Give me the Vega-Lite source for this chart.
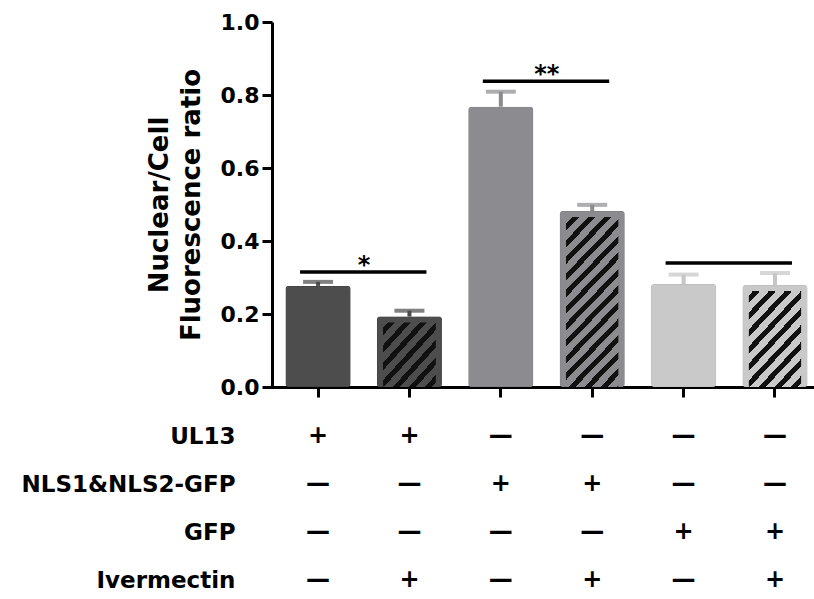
{
  "$schema": "https://vega.github.io/schema/vega-lite/v6.json",
  "width": 542,
  "height": 558,
  "autosize": "none",
  "padding": {"left": 272, "top": 22, "right": 0, "bottom": 19},
  "background": "white",
  "config": {
    "font": "DejaVu Sans",
    "view": {"stroke": null},
    "axis": {"grid": false, "domainColor": "#000", "tickColor": "#000", "domainWidth": 3, "tickWidth": 3, "tickSize": 10, "labelColor": "#000", "titleColor": "#000", "labelLimit": 400},
    "axisX": {"labels": false, "offset": -193, "domainCap": "square"},
    "text": {"font": "DejaVu Sans", "fontWeight": "bold", "color": "#000"}
  },
  "datasets": {
    "bars": [
      {"group": "UL13", "tone": "dark", "value": 0.277, "upper": 0.288},
      {"group": "UL13 + Ivermectin", "tone": "dark", "value": 0.193, "upper": 0.209},
      {"group": "NLS1&NLS2-GFP", "tone": "mid", "value": 0.768, "upper": 0.809},
      {"group": "NLS1&NLS2-GFP + Ivermectin", "tone": "mid", "value": 0.482, "upper": 0.499},
      {"group": "GFP", "tone": "light", "value": 0.282, "upper": 0.308},
      {"group": "GFP + Ivermectin", "tone": "light", "value": 0.2795, "upper": 0.312}
    ],
    "sig": [
      {"from": "UL13", "to": "UL13 + Ivermectin", "level": 0.315, "label": "*"},
      {"from": "NLS1&NLS2-GFP", "to": "NLS1&NLS2-GFP + Ivermectin", "level": 0.838, "label": "**"},
      {"from": "GFP", "to": "GFP + Ivermectin", "level": 0.34, "label": ""}
    ],
    "table": [
      {"group": "UL13", "factor": "UL13", "sign": "+"},
      {"group": "UL13 + Ivermectin", "factor": "UL13", "sign": "+"},
      {"group": "NLS1&NLS2-GFP", "factor": "UL13", "sign": "—"},
      {"group": "NLS1&NLS2-GFP + Ivermectin", "factor": "UL13", "sign": "—"},
      {"group": "GFP", "factor": "UL13", "sign": "—"},
      {"group": "GFP + Ivermectin", "factor": "UL13", "sign": "—"},
      {"group": "UL13", "factor": "NLS1&NLS2-GFP", "sign": "—"},
      {"group": "UL13 + Ivermectin", "factor": "NLS1&NLS2-GFP", "sign": "—"},
      {"group": "NLS1&NLS2-GFP", "factor": "NLS1&NLS2-GFP", "sign": "+"},
      {"group": "NLS1&NLS2-GFP + Ivermectin", "factor": "NLS1&NLS2-GFP", "sign": "+"},
      {"group": "GFP", "factor": "NLS1&NLS2-GFP", "sign": "—"},
      {"group": "GFP + Ivermectin", "factor": "NLS1&NLS2-GFP", "sign": "—"},
      {"group": "UL13", "factor": "GFP", "sign": "—"},
      {"group": "UL13 + Ivermectin", "factor": "GFP", "sign": "—"},
      {"group": "NLS1&NLS2-GFP", "factor": "GFP", "sign": "—"},
      {"group": "NLS1&NLS2-GFP + Ivermectin", "factor": "GFP", "sign": "—"},
      {"group": "GFP", "factor": "GFP", "sign": "+"},
      {"group": "GFP + Ivermectin", "factor": "GFP", "sign": "+"},
      {"group": "UL13", "factor": "Ivermectin", "sign": "—"},
      {"group": "UL13 + Ivermectin", "factor": "Ivermectin", "sign": "+"},
      {"group": "NLS1&NLS2-GFP", "factor": "Ivermectin", "sign": "—"},
      {"group": "NLS1&NLS2-GFP + Ivermectin", "factor": "Ivermectin", "sign": "+"},
      {"group": "GFP", "factor": "Ivermectin", "sign": "—"},
      {"group": "GFP + Ivermectin", "factor": "Ivermectin", "sign": "+"}
    ]
  },
  "layer": [
    {
      "data": {"name": "bars"},
      "encoding": {
        "x": {"field": "group", "type": "nominal", "title": null,
              "scale": {"domain": ["UL13", "UL13 + Ivermectin", "NLS1&NLS2-GFP", "NLS1&NLS2-GFP + Ivermectin", "GFP", "GFP + Ivermectin"], "paddingInner": 0.289, "paddingOuter": 0.11, "align": 0.675}}
      },
      "layer": [
        {
          "mark": {"type": "rule", "strokeWidth": 4},
          "encoding": {
            "y": {"field": "value", "type": "quantitative"},
            "y2": {"field": "upper"},
            "color": {"field": "tone", "type": "nominal", "legend": null, "scale": {"domain": ["dark", "mid", "light"], "range": ["#4b4b4b", "#8b8b8f", "#c6c6c6"]}}
          }
        },
        {
          "mark": {"type": "tick", "thickness": 4, "size": 30},
          "encoding": {
            "y": {"field": "upper", "type": "quantitative"},
            "color": {"field": "tone", "type": "nominal", "legend": null}
          }
        },
        {
          "mark": {"type": "bar", "size": 65, "cornerRadius": 3, "strokeWidth": 1},
          "encoding": {
            "y": {"field": "value", "type": "quantitative",
                  "scale": {"domain": [0, 1], "range": [365, 0], "nice": false},
                  "axis": {"values": [0, 0.2, 0.4, 0.6, 0.8, 1.0], "format": ".1f", "labelFontSize": 22, "labelFontWeight": "bold", "labelPadding": 3,
                           "title": ["Nuclear/Cell", "Fluorescence ratio"], "titleFontSize": 26, "titleFontWeight": "bold", "titleLineHeight": 32, "titlePadding": 16}},
            "fill": {"field": "tone", "type": "nominal", "legend": null, "scale": {"domain": ["dark", "mid", "light"], "range": ["#4d4d4d", "#8c8c90", "#c9c9c9"]}},
            "stroke": {"field": "tone", "type": "nominal", "legend": null, "scale": {"domain": ["dark", "mid", "light"], "range": ["#3c3c3c", "#7c7c80", "#b8b8b8"]}}
          }
        },
        {
          "transform": [{"filter": "datum.group === 'UL13 + Ivermectin'"}],
          "mark": {"type": "bar", "size": 53, "yOffset": 6, "cornerRadius": 2,
                   "fill": {"gradient": "linear", "x1": 0, "y1": 0, "x2": 0.8945, "y2": 1.0869, "stops": [
                     {"offset": 0, "color": "#4d4d4d"}, {"offset": 0.04, "color": "#4d4d4d"}, {"offset": 0.04, "color": "#111111"}, {"offset": 0.0996, "color": "#111111"},
                     {"offset": 0.0996, "color": "#4d4d4d"}, {"offset": 0.1763, "color": "#4d4d4d"}, {"offset": 0.1763, "color": "#111111"}, {"offset": 0.2359, "color": "#111111"},
                     {"offset": 0.2359, "color": "#4d4d4d"}, {"offset": 0.3126, "color": "#4d4d4d"}, {"offset": 0.3126, "color": "#111111"}, {"offset": 0.3722, "color": "#111111"},
                     {"offset": 0.3722, "color": "#4d4d4d"}, {"offset": 0.4489, "color": "#4d4d4d"}, {"offset": 0.4489, "color": "#111111"}, {"offset": 0.5085, "color": "#111111"},
                     {"offset": 0.5085, "color": "#4d4d4d"}, {"offset": 0.5852, "color": "#4d4d4d"}, {"offset": 0.5852, "color": "#111111"}, {"offset": 0.6448, "color": "#111111"},
                     {"offset": 0.6448, "color": "#4d4d4d"}, {"offset": 0.7215, "color": "#4d4d4d"}, {"offset": 0.7215, "color": "#111111"}, {"offset": 0.7811, "color": "#111111"},
                     {"offset": 0.7811, "color": "#4d4d4d"}, {"offset": 0.8577, "color": "#4d4d4d"}, {"offset": 0.8577, "color": "#111111"}, {"offset": 0.9174, "color": "#111111"},
                     {"offset": 0.9174, "color": "#4d4d4d"}, {"offset": 1, "color": "#4d4d4d"}]}},
          "encoding": {"y": {"field": "value", "type": "quantitative"}}
        },
        {
          "transform": [{"filter": "datum.group === 'NLS1&NLS2-GFP + Ivermectin'"}],
          "mark": {"type": "bar", "size": 53, "yOffset": 6, "cornerRadius": 2,
                   "fill": {"gradient": "linear", "x1": 0, "y1": 0, "x2": 0.37297, "y2": 1.1956, "stops": [
                     {"offset": 0, "color": "#8c8c90"}, {"offset": 0.03, "color": "#8c8c90"}, {"offset": 0.03, "color": "#111111"}, {"offset": 0.0614, "color": "#111111"},
                     {"offset": 0.0614, "color": "#8c8c90"}, {"offset": 0.10178, "color": "#8c8c90"}, {"offset": 0.10178, "color": "#111111"}, {"offset": 0.13318, "color": "#111111"},
                     {"offset": 0.13318, "color": "#8c8c90"}, {"offset": 0.17356, "color": "#8c8c90"}, {"offset": 0.17356, "color": "#111111"}, {"offset": 0.20496, "color": "#111111"},
                     {"offset": 0.20496, "color": "#8c8c90"}, {"offset": 0.24534, "color": "#8c8c90"}, {"offset": 0.24534, "color": "#111111"}, {"offset": 0.27674, "color": "#111111"},
                     {"offset": 0.27674, "color": "#8c8c90"}, {"offset": 0.31712, "color": "#8c8c90"}, {"offset": 0.31712, "color": "#111111"}, {"offset": 0.34852, "color": "#111111"},
                     {"offset": 0.34852, "color": "#8c8c90"}, {"offset": 0.3889, "color": "#8c8c90"}, {"offset": 0.3889, "color": "#111111"}, {"offset": 0.4203, "color": "#111111"},
                     {"offset": 0.4203, "color": "#8c8c90"}, {"offset": 0.46068, "color": "#8c8c90"}, {"offset": 0.46068, "color": "#111111"}, {"offset": 0.49208, "color": "#111111"},
                     {"offset": 0.49208, "color": "#8c8c90"}, {"offset": 0.53246, "color": "#8c8c90"}, {"offset": 0.53246, "color": "#111111"}, {"offset": 0.56386, "color": "#111111"},
                     {"offset": 0.56386, "color": "#8c8c90"}, {"offset": 0.60424, "color": "#8c8c90"}, {"offset": 0.60424, "color": "#111111"}, {"offset": 0.63564, "color": "#111111"},
                     {"offset": 0.63564, "color": "#8c8c90"}, {"offset": 0.67602, "color": "#8c8c90"}, {"offset": 0.67602, "color": "#111111"}, {"offset": 0.70742, "color": "#111111"},
                     {"offset": 0.70742, "color": "#8c8c90"}, {"offset": 0.7478, "color": "#8c8c90"}, {"offset": 0.7478, "color": "#111111"}, {"offset": 0.7792, "color": "#111111"},
                     {"offset": 0.7792, "color": "#8c8c90"}, {"offset": 0.81958, "color": "#8c8c90"}, {"offset": 0.81958, "color": "#111111"}, {"offset": 0.85098, "color": "#111111"},
                     {"offset": 0.85098, "color": "#8c8c90"}, {"offset": 0.89136, "color": "#8c8c90"}, {"offset": 0.89136, "color": "#111111"}, {"offset": 0.92276, "color": "#111111"},
                     {"offset": 0.92276, "color": "#8c8c90"}, {"offset": 0.96314, "color": "#8c8c90"}, {"offset": 0.96314, "color": "#111111"}, {"offset": 0.99454, "color": "#111111"},
                     {"offset": 0.99454, "color": "#8c8c90"}, {"offset": 1, "color": "#8c8c90"}]}},
          "encoding": {"y": {"field": "value", "type": "quantitative"}}
        },
        {
          "transform": [{"filter": "datum.group === 'GFP + Ivermectin'"}],
          "mark": {"type": "bar", "size": 53, "yOffset": 6, "cornerRadius": 2,
                   "fill": {"gradient": "linear", "x1": 0, "y1": 0, "x2": 0.65671, "y2": 1.18952, "stops": [
                     {"offset": 0, "color": "#c9c9c9"}, {"offset": 0.03, "color": "#c9c9c9"}, {"offset": 0.03, "color": "#111111"}, {"offset": 0.077, "color": "#111111"},
                     {"offset": 0.077, "color": "#c9c9c9"}, {"offset": 0.13738, "color": "#c9c9c9"}, {"offset": 0.13738, "color": "#111111"}, {"offset": 0.18436, "color": "#111111"},
                     {"offset": 0.18436, "color": "#c9c9c9"}, {"offset": 0.24476, "color": "#c9c9c9"}, {"offset": 0.24476, "color": "#111111"}, {"offset": 0.29174, "color": "#111111"},
                     {"offset": 0.29174, "color": "#c9c9c9"}, {"offset": 0.35214, "color": "#c9c9c9"}, {"offset": 0.35214, "color": "#111111"}, {"offset": 0.39912, "color": "#111111"},
                     {"offset": 0.39912, "color": "#c9c9c9"}, {"offset": 0.45952, "color": "#c9c9c9"}, {"offset": 0.45952, "color": "#111111"}, {"offset": 0.5065, "color": "#111111"},
                     {"offset": 0.5065, "color": "#c9c9c9"}, {"offset": 0.5669, "color": "#c9c9c9"}, {"offset": 0.5669, "color": "#111111"}, {"offset": 0.61388, "color": "#111111"},
                     {"offset": 0.61388, "color": "#c9c9c9"}, {"offset": 0.67428, "color": "#c9c9c9"}, {"offset": 0.67428, "color": "#111111"}, {"offset": 0.72126, "color": "#111111"},
                     {"offset": 0.72126, "color": "#c9c9c9"}, {"offset": 0.78166, "color": "#c9c9c9"}, {"offset": 0.78166, "color": "#111111"}, {"offset": 0.82864, "color": "#111111"},
                     {"offset": 0.82864, "color": "#c9c9c9"}, {"offset": 0.88904, "color": "#c9c9c9"}, {"offset": 0.88904, "color": "#111111"}, {"offset": 0.93602, "color": "#111111"},
                     {"offset": 0.93602, "color": "#c9c9c9"}, {"offset": 1, "color": "#c9c9c9"}]}},
          "encoding": {"y": {"field": "value", "type": "quantitative"}}
        },
        {
          "data": {"name": "sig"},
          "mark": {"type": "rule", "strokeWidth": 3.5, "color": "#000", "xOffset": -18, "x2Offset": 17},
          "encoding": {
            "x": {"field": "from", "type": "nominal", "title": null},
            "x2": {"field": "to"},
            "y": {"field": "level", "type": "quantitative"}
          }
        },
        {
          "data": {"name": "sig"},
          "mark": {"type": "text", "fontSize": 24, "baseline": "alphabetic", "xOffset": 46, "dy": 1},
          "encoding": {
            "x": {"field": "from", "type": "nominal", "title": null},
            "y": {"field": "level", "type": "quantitative"},
            "text": {"field": "label"}
          }
        }
      ]
    },
    {
      "data": {"name": "table"},
      "mark": {"type": "text", "fontSize": 24, "baseline": "middle"},
      "encoding": {
        "x": {"field": "group", "type": "nominal", "title": null},
        "y": {"field": "factor", "type": "nominal", "sort": ["UL13", "NLS1&NLS2-GFP", "GFP", "Ivermectin"],
              "scale": {"type": "point", "range": [414, 558], "padding": 0},
              "axis": {"orient": "left", "title": null, "domain": false, "ticks": false, "tickSize": 0, "labelPadding": 37, "labelFontSize": 23, "labelFontWeight": "bold", "labelLimit": 400, "offset": 0}},
        "text": {"field": "sign"}
      }
    }
  ],
  "resolve": {"scale": {"y": "independent"}, "axis": {"y": "independent"}}
}
